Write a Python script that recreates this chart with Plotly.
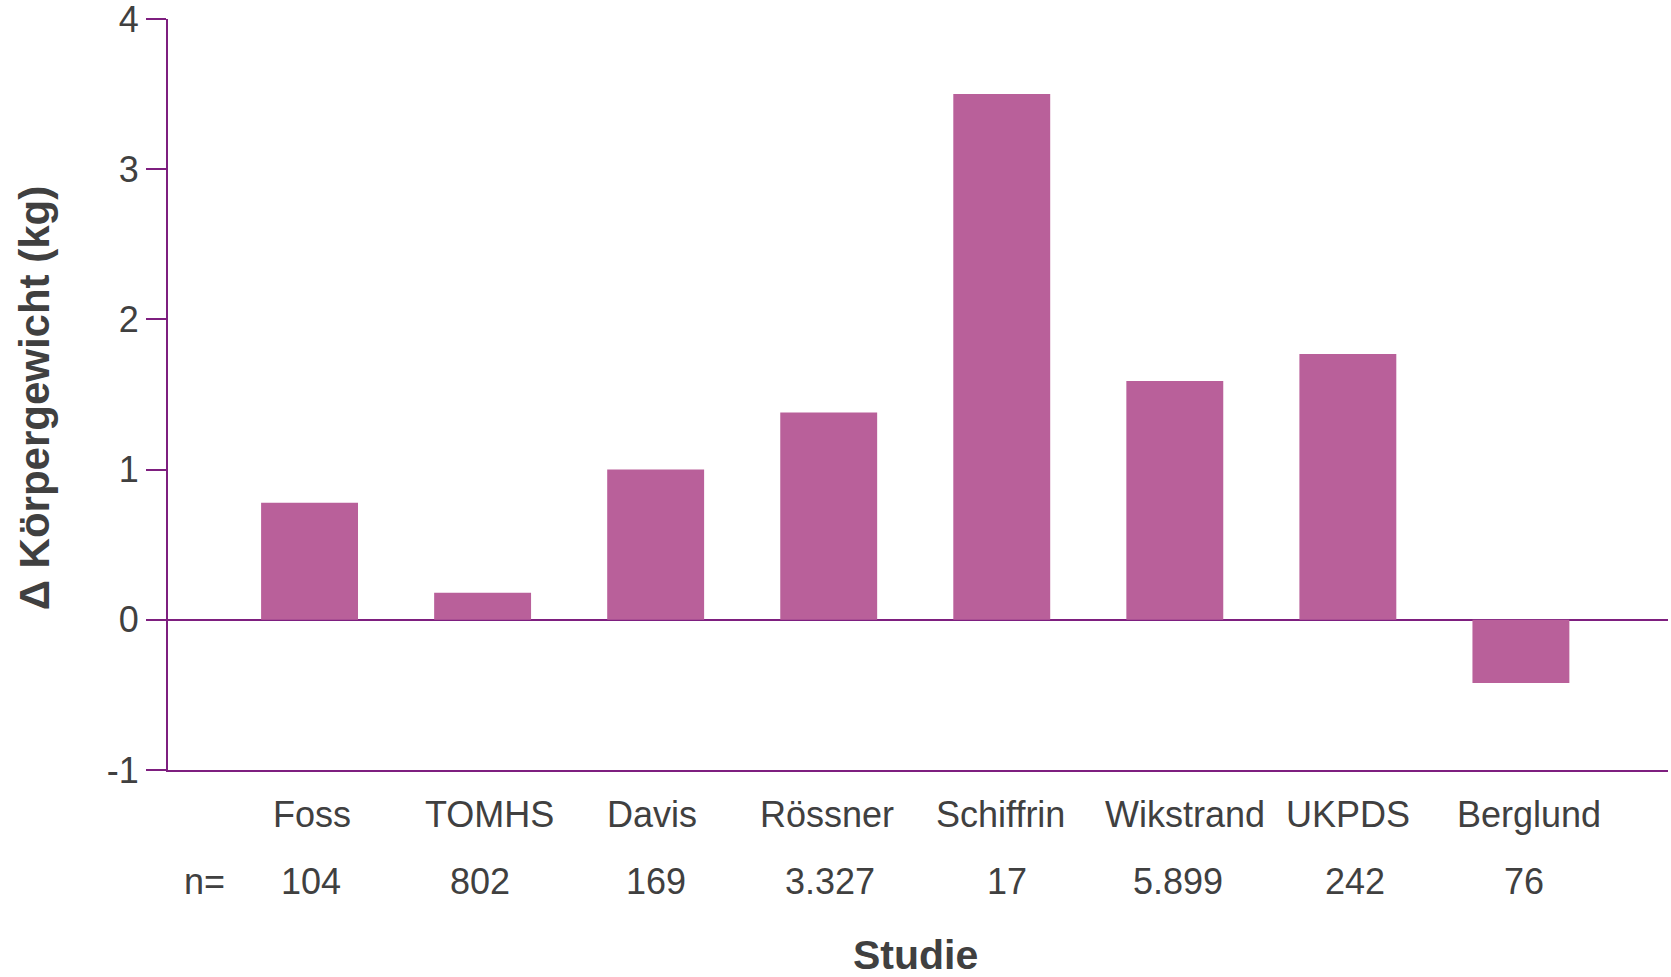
import plotly.graph_objects as go

studies = ["Foss", "TOMHS", "Davis", "Rössner", "Schiffrin", "Wikstrand", "UKPDS", "Berglund"]
n_values = ["104", "802", "169", "3.327", "17", "5.899", "242", "76"]
weight_change = [0.78, 0.18, 1.0, 1.38, 3.5, 1.59, 1.77, -0.42]
y_ticks = [-1, 0, 1, 2, 3, 4]
y_ticktext = ["-1", "0", "1", "2", "3", "4"]

# small horizontal pixel nudges of the labels (styling only)
label_dx = [2, 7, -4, -2, -1, 10, 0, 8]
n_dx = [1, -3, 0, 1, 5, 3, 7, 3]

PURPLE = "#7e1f7f"
BAR = "#b9609a"
TEXT = "#404040"
FONT = "Liberation Sans, Arial, sans-serif"

fig = go.Figure()
fig.add_trace(go.Bar(
    x=studies, y=weight_change, marker=dict(color=BAR, line=dict(width=0)),
    width=0.56, showlegend=False,
))

annotations = []
for s, n, dx1, dx2 in zip(studies, n_values, label_dx, n_dx):
    annotations.append(dict(x=s, y=-0.0586, xref="x", yref="paper", text=s,
                            showarrow=False, xanchor="center", yanchor="middle", xshift=dx1,
                            font=dict(size=36, color=TEXT, family=FONT)))
    annotations.append(dict(x=s, y=-0.148, xref="x", yref="paper", text=n,
                            showarrow=False, xanchor="center", yanchor="middle", xshift=dx2,
                            font=dict(size=36, color=TEXT, family=FONT)))
annotations.append(dict(x=0.024, y=-0.148, xref="paper", yref="paper", text="n=",
                        showarrow=False, xanchor="center", yanchor="middle",
                        font=dict(size=36, color=TEXT, family=FONT)))
annotations.append(dict(x=0.498, y=-0.247, xref="paper", yref="paper", text="<b>Studie</b>",
                        showarrow=False, xanchor="center", yanchor="middle",
                        font=dict(size=41, color=TEXT, family=FONT)))
annotations.append(dict(x=-0.0888, y=0.496, xref="paper", yref="paper",
                        text="<b>Δ Körpergewicht (kg)</b>", textangle=-90,
                        showarrow=False, xanchor="center", yanchor="middle",
                        font=dict(size=42, color=TEXT, family=FONT)))

fig.update_layout(
    width=1671, height=977,
    margin=dict(l=168, r=3, t=19, b=207),
    paper_bgcolor="white", plot_bgcolor="white",
    font=dict(family=FONT, color=TEXT, size=36),
    annotations=annotations,
    bargap=0.44,
)
fig.update_xaxes(
    type="category", range=[-0.818, 7.85], showticklabels=False, ticks="",
    showline=True, linecolor=PURPLE, linewidth=2, showgrid=False, zeroline=False,
    automargin=False,
)
fig.update_yaxes(
    range=[-1, 4], tickvals=y_ticks, ticktext=y_ticktext,
    ticks="outside", ticklen=20, tickwidth=2, tickcolor=PURPLE,
    showline=True, linecolor=PURPLE, linewidth=2, showgrid=False,
    zeroline=True, zerolinecolor=PURPLE, zerolinewidth=2,
    tickfont=dict(size=36, color=TEXT, family=FONT),
    ticklabeloverflow="allow", automargin=False,
)

fig.write_html("out.html")
